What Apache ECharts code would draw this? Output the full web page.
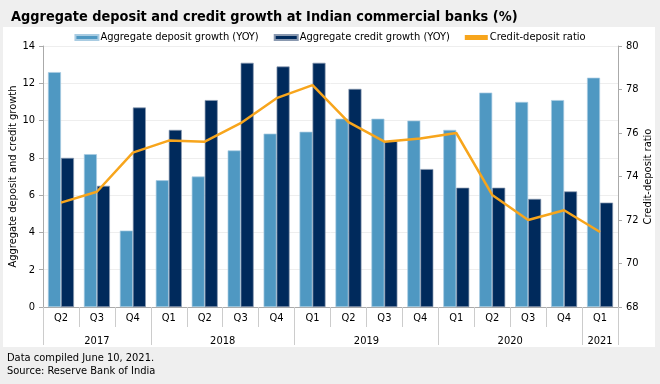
<!DOCTYPE html>
<html><head><meta charset="utf-8">
<script src="https://cdn.jsdelivr.net/npm/echarts@6/dist/echarts.min.js"></script>
<style>html,body{margin:0;padding:0;background:#efefef;}#c{width:660px;height:384px;}</style>
</head><body><div id="c"></div>
<script>
const quarters = ['Q2','Q3','Q4','Q1','Q2','Q3','Q4','Q1','Q2','Q3','Q4','Q1','Q2','Q3','Q4','Q1'];
const years = ['2017','2018','2019','2020','2021'];
const yearCenters = [1.5, 5, 9, 13, 15.5];
const yearBounds = [0, 3, 7, 11, 15, 16];
const depositGrowth = [12.6, 8.2, 4.1, 6.8, 7.0, 8.4, 9.3, 9.4, 10.1, 10.1, 10.0, 9.5, 11.5, 11.0, 11.1, 12.3];
const creditGrowth = [8.0, 6.5, 10.7, 9.5, 11.1, 13.1, 12.9, 13.1, 11.7, 8.9, 7.4, 6.4, 6.4, 5.8, 6.2, 5.6];
const cdRatio = [72.8, 73.3, 75.1, 75.65, 75.6, 76.45, 77.6, 78.2, 76.5, 75.6, 75.75, 76.0, 73.15, 72.0, 72.45, 71.45];

const FONT = '"Liberation Sans Narrow","DejaVu Sans Condensed","Roboto",sans-serif';
const chart = echarts.init(document.getElementById('c'), null, {renderer:'canvas'});
chart.setOption({
  backgroundColor: '#efefef',
  animation: false,
  textStyle: {fontFamily: FONT},
  graphic: [
    {type:'rect', shape:{x:3,y:27,width:652,height:320}, style:{fill:'#ffffff'}, z:-10, silent:true},
    {type:'text', left:7, top:352, style:{text:'Data compiled June 10, 2021.\nSource: Reserve Bank of India', font:'11px '+FONT, fill:'#000', lineHeight:13}}
  ],
  title: {text:'Aggregate deposit and credit growth at Indian commercial banks (%)', left:6, top:5,
    textStyle:{fontFamily:FONT, fontSize:14.4, fontWeight:'bold', color:'#000'}},
  legend: {top:27, left:'center', itemWidth:23, itemHeight:5, itemGap:15, symbolKeepAspect:false,
    textStyle:{fontFamily:FONT, fontSize:11, color:'#000', padding:[0,0,0,-3]},
    data:[{name:'Aggregate deposit growth (YOY)', icon:'rect'},{name:'Aggregate credit growth (YOY)', icon:'rect'},
          {name:'Credit-deposit ratio', icon:'path://M0,0H24V2.5H0Z', itemStyle:{color:'#f7a51c'}}]},
  grid: {left:43, right:42, top:46, bottom:77, outerBoundsMode:'none', containLabel:false},
  xAxis: [
    {type:'category', data:quarters, axisLine:{lineStyle:{color:'#aaa'}},
      axisTick:{show:true, interval:0, length:20, lineStyle:{color:'#ccc'}},
      axisLabel:{interval:0, margin:6, fontSize:11, color:'#000', fontFamily:FONT}},
    {type:'value', min:0, max:16, position:'bottom', axisLine:{show:false}, splitLine:{show:false},
      axisTick:{show:true, customValues:yearBounds, length:38, lineStyle:{color:'#ccc'}},
      axisLabel:{customValues:yearCenters, margin:29, fontSize:11, color:'#000', fontFamily:FONT,
        formatter: v => { const i = yearCenters.indexOf(v); return i >= 0 ? years[i] : ''; }}}
  ],
  yAxis: [
    {type:'value', min:0, max:14, interval:2, name:'Aggregate deposit and credit growth', nameLocation:'middle', nameGap:24,
      nameMoveOverlap:false,
      nameTextStyle:{fontFamily:FONT, fontSize:11, color:'#000'},
      axisLine:{show:true, lineStyle:{color:'#aaa'}}, axisTick:{show:true, length:4, lineStyle:{color:'#aaa'}},
      axisLabel:{fontSize:11, color:'#000', margin:8, fontFamily:FONT}, splitLine:{lineStyle:{color:'#eeeeee'}}},
    {type:'value', min:68, max:80, interval:2, name:'Credit-deposit ratio', nameLocation:'middle', nameGap:25, nameRotate:90,
      nameMoveOverlap:false,
      nameTextStyle:{fontFamily:FONT, fontSize:11, color:'#000'},
      axisLine:{show:true, lineStyle:{color:'#aaa'}}, axisTick:{show:true, length:4, lineStyle:{color:'#aaa'}},
      axisLabel:{fontSize:11, color:'#000', margin:8, fontFamily:FONT}, splitLine:{show:false}}
  ],
  series: [
    {name:'Aggregate deposit growth (YOY)', type:'bar', data:depositGrowth, barWidth:13, barGap:'0%',
      itemStyle:{color:'#4f98c2', borderColor:'#a9cce2', borderWidth:0.7}},
    {name:'Aggregate credit growth (YOY)', type:'bar', data:creditGrowth, barWidth:13,
      itemStyle:{color:'#002a5c', borderColor:'#8a99b0', borderWidth:0.7}},
    {name:'Credit-deposit ratio', type:'line', yAxisIndex:1, data:cdRatio, symbol:'none',
      lineStyle:{color:'#f7a51c', width:2.5}, itemStyle:{color:'#f7a51c'}, z:5}
  ]
});
</script></body></html>
